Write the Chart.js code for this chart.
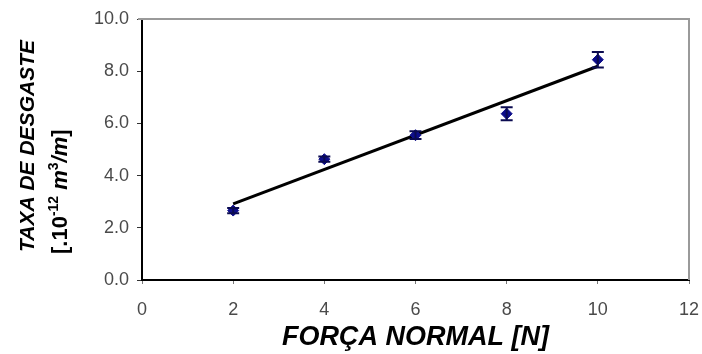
<!DOCTYPE html>
<html>
<head>
<meta charset="utf-8">
<script src="https://cdn.jsdelivr.net/npm/chart.js@4.4.1/dist/chart.umd.min.js"></script>
<style>
  body { margin: 0; background: #fff; }
  #wrap { width: 702px; height: 354px; }
</style>
</head>
<body>
<div id="wrap"><canvas id="myChart" width="702" height="354"></canvas></div>
<script>
// valores
const forca = [2, 4, 6, 8, 10];
const taxa = [2.66, 4.63, 5.55, 6.37, 8.44];
const erro = [0.1, 0.1, 0.15, 0.25, 0.3];
const tendenciaX = [2, 10];
const tendenciaY = [2.92, 8.19];
const yTicks = [0, 2, 4, 6, 8, 10];
const xTicks = [0, 2, 4, 6, 8, 10, 12];

const FONT = "'Liberation Sans', Arial, sans-serif";

// barras de erro desenhadas com as escalas do Chart.js
const errorBars = {
    id: 'errorBars',
    afterDatasetsDraw(chart) {
        const ctx = chart.ctx;
        const xs = chart.scales.x, ys = chart.scales.y;
        ctx.save();
        ctx.strokeStyle = '#0b0b50';
        ctx.lineWidth = 2;
        forca.forEach((f, i) => {
            const px = xs.getPixelForValue(f);
            const top = ys.getPixelForValue(taxa[i] + erro[i]);
            const bot = ys.getPixelForValue(taxa[i] - erro[i]);
            ctx.beginPath();
            ctx.moveTo(px, top); ctx.lineTo(px, bot);
            ctx.moveTo(px - 6, top); ctx.lineTo(px + 6, top);
            ctx.moveTo(px - 6, bot); ctx.lineTo(px + 6, bot);
            ctx.stroke();
        });
        ctx.restore();
    }
};

// moldura cinza (topo e direita) e título do eixo y com expoentes
const frameAndTitle = {
    id: 'frameAndTitle',
    beforeDatasetsDraw(chart) {
        const a = chart.chartArea;
        const ctx = chart.ctx;
        ctx.save();
        ctx.strokeStyle = '#9a9a9a';
        ctx.lineWidth = 2;
        ctx.beginPath();
        ctx.moveTo(a.left - 4, a.top);
        ctx.lineTo(a.right, a.top);
        ctx.lineTo(a.right, a.bottom);
        ctx.stroke();
        ctx.restore();
    },
    afterDraw(chart) {
        const ctx = chart.ctx;
        const yStart = 252;
        ctx.save();
        ctx.fillStyle = '#000';
        ctx.textAlign = 'left';
        ctx.textBaseline = 'alphabetic';

        ctx.save();
        ctx.translate(34, yStart);
        ctx.rotate(-Math.PI / 2);
        ctx.font = 'italic bold 21px ' + FONT;
        ctx.fillText('TAXA DE DESGASTE', 0, 0);
        ctx.restore();

        const parts = [
            { t: '[.10', f: 'bold 22px ' + FONT, dy: 0 },
            { t: '-12', f: 'bold 14px ' + FONT, dy: -9 },
            { t: ' ', f: 'bold 22px ' + FONT, dy: 0 },
            { t: 'm', f: 'italic bold 22px ' + FONT, dy: 0 },
            { t: '3', f: 'bold 14px ' + FONT, dy: -9 },
            { t: '/m', f: 'italic bold 22px ' + FONT, dy: 0 },
            { t: ']', f: 'bold 22px ' + FONT, dy: 0 }
        ];
        ctx.save();
        ctx.translate(67, yStart + 2);
        ctx.rotate(-Math.PI / 2);
        let x = 0;
        parts.forEach(p => {
            ctx.font = p.f;
            ctx.fillText(p.t, x, p.dy);
            x += ctx.measureText(p.t).width;
        });
        ctx.restore();
        ctx.restore();
    }
};

const ctx = document.getElementById('myChart').getContext('2d');
const chart = new Chart(ctx, {
    type: 'scatter',
    data: {
        datasets: [{
            label: 'Taxa de desgaste',
            data: forca.map((f, i) => ({ x: f, y: taxa[i] })),
            pointStyle: 'rectRot',
            pointRadius: 5.5,
            backgroundColor: '#0d0d8a',
            borderColor: '#0d0d8a',
            borderWidth: 1,
            order: 1
        }, {
            label: 'Tendência',
            type: 'line',
            data: tendenciaX.map((x, i) => ({ x: x, y: tendenciaY[i] })),
            borderColor: '#000',
            borderWidth: 3,
            pointRadius: 0,
            fill: false,
            order: 2
        }]
    },
    options: {
        responsive: false,
        animation: false,
        layout: { autoPadding: false, padding: { left: 0, right: 13, top: 19, bottom: 0 } },
        plugins: {
            legend: { display: false },
            tooltip: { enabled: false }
        },
        scales: {
            x: {
                type: 'linear',
                min: 0, max: 12,
                afterBuildTicks: axis => { axis.ticks = xTicks.map(v => ({ value: v })); },
                afterFit: axis => {
                    axis.height = 74;
                    axis.paddingLeft = 0;
                    axis.paddingRight = 0;
                },
                ticks: { color: '#4a4a4a', font: { family: FONT, size: 18, lineHeight: 1.2 }, padding: 15 },
                grid: { drawOnChartArea: false, drawTicks: true, tickLength: 4, color: '#777' },
                border: { color: '#000', width: 2 },
                title: {
                    display: true,
                    text: 'FORÇA NORMAL [N]',
                    color: '#000',
                    font: { family: FONT, size: 27, style: 'italic', weight: 'bold', lineHeight: 1.25 },
                    padding: { top: 0, bottom: 0 }
                }
            },
            y: {
                type: 'linear',
                min: 0, max: 10,
                afterBuildTicks: axis => { axis.ticks = yTicks.map(v => ({ value: v })); },
                afterFit: axis => {
                    axis.width = 142;
                    axis.paddingTop = 0;
                    axis.paddingBottom = 0;
                },
                ticks: {
                    color: '#4a4a4a', font: { family: FONT, size: 18 }, padding: 8,
                    callback: v => v.toFixed(1)
                },
                grid: { drawOnChartArea: false, drawTicks: true, tickLength: 5, color: '#333' },
                border: { color: '#000', width: 2 }
            }
        }
    },
    plugins: [errorBars, frameAndTitle]
});
</script>
</body>
</html>
